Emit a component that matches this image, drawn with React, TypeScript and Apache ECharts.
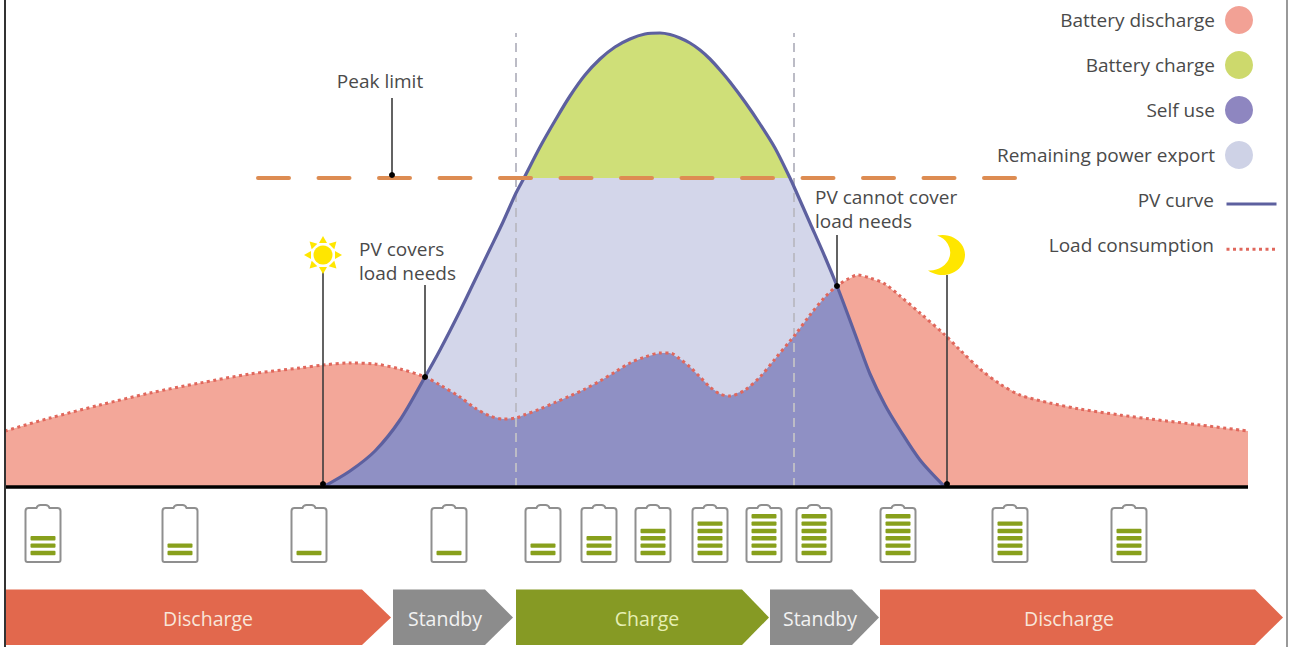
import React, { useEffect, useRef } from "react";
import * as echarts from "echarts";

// shared time axis of the curves (axis units equal the picture's horizontal scale)
const curveX = [5,50,100,150,200,250,300,323,350,375,400,425,440,460,475,490,503,516,524,540,556,570,585,600,615,630,645,660,670,680,690,700,710,720,730,745,760,775,790,795,810,825,837,848,858,870,885,900,920,945,960,980,1000,1020,1050,1080,1120,1150,1200,1248];
const loadValues = [56,69,82,94,104,113,119,122,124,123,118,110,102,90,79,71,68,69,72,78,85,91,98,106,115,124,130,134,134,128,120,110,100,93,91,97,110,128,146,152,172,190,201,208,212,209,203,191,174,152,137,118,103,92,84,78,72,68,62,56];
const pvValues = [0,0,0,0,0,0,0,0,16,36,67,110,137,176,207,238,265,294,309,340,368,391,412,428,440,448,453,454,452.5,449,444,437,428,417,405,385,363,339,309,298,264,230,201,172,145,113,82,57,27,0,0,0,0,0,0,0,0,0,0,0];
const peakLimit = 309;
const peakLimitSpan = [258, 1016];
const boundaryX = [516, 794];
const boundaryTop = 454;
const baselineSpan = [5, 1248];

const seriesNames = ["Battery discharge", "Battery charge", "Self use", "Remaining power export", "PV curve", "Load consumption"];

const batteryX = [43, 180, 309, 449, 543, 599, 653, 710, 764, 814, 898, 1010, 1129];
const batteryLevel = [3, 2, 1, 1, 2, 3, 4, 5, 6, 6, 6, 5, 4];

const phaseNames = ["Discharge", "Standby", "Charge", "Standby", "Discharge"];
const phaseStart = [6, 393, 516, 770, 880];
const phaseShoulder = [362, 485, 742, 852, 1255];
const phaseTip = [391, 513, 769, 879, 1283];
const phaseLabelX = [208, 445, 647, 820, 1069];
const phaseKind = ["discharge", "standby", "charge", "standby", "discharge"];

const noteTexts = ["Peak limit", "PV covers\nload needs", "PV cannot cover\nload needs"];
const noteX = [380, 359, 815];
const noteV = [406, 226, 278.5];
const noteAlign = ["center", "left", "left"];

const leaderX = [392, 323, 425, 837, 947];
const leaderFrom = [389, 215, 202, 252, 212];
const leaderTo = [312, 3, 110, 201, 3];

const sunAt = [323, 232];
const moonAt = [928, 252];

const COLORS = {
  discharge: "#f3a799",
  charge: "#cfdf78",
  self: "#8f90c4",
  remain: "#d3d6ea",
  pv: "#5d609f",
  load: "#e0675c",
  limit: "#dd8c52",
  text: "#4a4a4a",
  legendCharge: "#cdd96c",
  legendSelf: "#8e86c0",
  legendRemain: "#ced2e6",
  legendDischarge: "#f2a195",
};
const PHASE_FILL: Record<string, string> = { discharge: "#e2684d", standby: "#8c8c8c", charge: "#869a24" };
const PHASE_TEXT: Record<string, string> = { discharge: "#f8e6da", standby: "#f2f2f2", charge: "#e6efb4" };
const FONT = "'Open Sans', 'Noto Sans', sans-serif";
const BATTERY_PATH = "M3 3Q0 3 0 6L0 55Q0 57 2 57L33 57Q35 57 35 55L35 6Q35 3 32 3L24 3Q23 0 20 0L15 0Q12 0 11 3Z";
const MOON_PATH = "M9 0A22.4 22.4 0 1 1 0 39A20.2 20.2 0 0 0 9 0Z";

const pairs = (xs: number[], ys: number[]) => xs.map((x, i) => [x, ys[i]]);

function buildOption() {
  const selfUse = loadValues.map((v, i) => Math.min(v, pvValues[i]));
  const capped = pvValues.map((v) => Math.min(v, peakLimit));
  const first = pvValues.findIndex((v) => v > 0) - 1;
  let end = first + 1;
  while (pvValues[end] > 0) end++;
  const pvLine = pairs(curveX, pvValues).slice(first, end + 1);

  const area = (name: string, data: number[][], color: string, z: number) => ({
    name, type: "line", data, z, showSymbol: false, symbol: "none", silent: true,
    lineStyle: { width: 0, color }, itemStyle: { color }, areaStyle: { color, opacity: 1 },
  });
  const custom = (name: string, data: any[], z: number, renderItem: any) => ({
    name, type: "custom", data, z, silent: true, coordinateSystem: "cartesian2d",
    encode: { x: 0, y: 1 }, renderItem, clip: false,
  });
  const rule = (name: string, xs: number[], vs: number[], color: string, width: number, type: any, z: number) => ({
    name, type: "line", data: pairs(xs, vs), z, showSymbol: false, symbol: "none", silent: true,
    lineStyle: { color, width, type },
  });

  return {
    animation: false,
    backgroundColor: "#ffffff",
    grid: { left: 0, right: 0, top: 0, bottom: 0 },
    xAxis: { type: "value", min: 0, max: 1289, show: false },
    yAxis: { type: "value", min: -160, max: 487, show: false },
    legend: [
      {
        data: [
          { name: seriesNames[0], itemStyle: { color: COLORS.legendDischarge } },
          { name: seriesNames[1], itemStyle: { color: COLORS.legendCharge } },
          { name: seriesNames[2], itemStyle: { color: COLORS.legendSelf } },
          { name: seriesNames[3], itemStyle: { color: COLORS.legendRemain } },
        ],
        orient: "vertical", align: "right", right: 36, top: 6, padding: 0, itemWidth: 28, itemHeight: 28, itemGap: 17,
        icon: "circle", selectedMode: false,
        textStyle: { fontFamily: FONT, fontSize: 19, color: COLORS.text, padding: [0, 5, 0, 0] },
      },
      {
        // names of the two line keys
        data: [seriesNames[4], seriesNames[5]],
        orient: "vertical", align: "right", right: 11, top: 189, padding: 0, itemWidth: 50, itemHeight: 28, itemGap: 22,
        selectedMode: false,
        itemStyle: { opacity: 0 },
        lineStyle: { opacity: 0 },
        textStyle: { fontFamily: FONT, fontSize: 19, color: COLORS.text, padding: [0, 8, 0, 0] },
      },
      {
        // the two line keys, which sit a little lower than their names
        data: [seriesNames[4], seriesNames[5]],
        orient: "vertical", align: "right", right: 11, top: 190, padding: 0, itemWidth: 50, itemHeight: 28, itemGap: 20,
        selectedMode: false,
        itemStyle: { opacity: 0 },
        lineStyle: { width: 3 },
        formatter: () => "",
        textStyle: { fontSize: 1 },
      },
    ],
    series: [
      area(seriesNames[0], pairs(curveX, loadValues), COLORS.discharge, 1),
      area(seriesNames[1], pairs(curveX, pvValues), COLORS.charge, 2),
      area(seriesNames[3], pairs(curveX, capped), COLORS.remain, 3),
      area(seriesNames[2], pairs(curveX, selfUse), COLORS.self, 4),
      rule("Boundary A", [boundaryX[0], boundaryX[0]], [0, boundaryTop], "#bcbcc6", 2, [9, 6], 5),
      rule("Boundary B", [boundaryX[1], boundaryX[1]], [0, boundaryTop], "#bcbcc6", 2, [9, 6], 5),
      {
        name: seriesNames[5], type: "line", data: pairs(curveX, loadValues), z: 6, showSymbol: false, symbol: "none", silent: true,
        smooth: 0.3,
        lineStyle: { color: COLORS.load, width: 3, type: [3, 3.5] }, itemStyle: { color: COLORS.load },
      },
      {
        name: seriesNames[4], type: "line", data: pvLine, z: 7, showSymbol: false, symbol: "none", silent: true,
        smooth: 0.3,
        lineStyle: { color: COLORS.pv, width: 3.2 }, itemStyle: { color: COLORS.pv },
      },
      {
        ...rule("Peak limit line", peakLimitSpan, [peakLimit, peakLimit], COLORS.limit, 4, [31, 29.5], 8),
        lineStyle: { color: COLORS.limit, width: 4, type: [31, 29.5], cap: "round" },
      },
      rule("Baseline", baselineSpan, [0, 0], "#000000", 3.5, "solid", 9),
      rule("Left edge", [5, 5], [487, -160], "#333333", 2, "solid", 9),
      rule("Right edge", [1287, 1287], [487, -160], "#777777", 1.5, "solid", 9),
      custom("Leaders", pairs(leaderX, leaderFrom), 10, (p: any, api: any) => {
        const i = p.dataIndex;
        const a = api.coord([leaderX[i], leaderFrom[i]]);
        const b = api.coord([leaderX[i], leaderTo[i]]);
        return {
          type: "group",
          children: [
            { type: "line", shape: { x1: a[0], y1: a[1], x2: b[0], y2: b[1] }, style: { stroke: "#3c3c3c", lineWidth: 1.6 } },
            { type: "circle", shape: { cx: b[0], cy: b[1], r: 3 }, style: { fill: "#000000" } },
          ],
        };
      }),
      custom("Notes", pairs(noteX, noteV), 11, (p: any, api: any) => {
        const i = p.dataIndex;
        const c = api.coord([noteX[i], noteV[i]]);
        return {
          type: "text", x: c[0], y: c[1],
          style: { text: noteTexts[i], fontFamily: FONT, fontSize: 19, lineHeight: 24, fill: COLORS.text, align: noteAlign[i], verticalAlign: "middle" },
        };
      }),
      custom("Sun", [sunAt], 11, (_p: any, api: any) => {
        const c = api.coord(sunAt);
        const rays = [];
        for (let k = 0; k < 8; k++) {
          const t = (k * Math.PI) / 4;
          const tip = [Math.cos(t) * 19, Math.sin(t) * 19];
          const n = [-Math.sin(t) * 4, Math.cos(t) * 4];
          const b = [Math.cos(t) * 12, Math.sin(t) * 12];
          rays.push({
            type: "polygon",
            shape: { points: [[c[0] + tip[0], c[1] + tip[1]], [c[0] + b[0] + n[0], c[1] + b[1] + n[1]], [c[0] + b[0] - n[0], c[1] + b[1] - n[1]]] },
            style: { fill: "#ffe600" },
          });
        }
        return {
          type: "group",
          children: [{ type: "circle", shape: { cx: c[0], cy: c[1], r: 9.5 }, style: { fill: "#ffe600" } }, ...rays],
        };
      }),
      custom("Moon", [moonAt], 11, (_p: any, api: any) => {
        const c = api.coord(moonAt);
        return {
          type: "path",
          shape: { pathData: MOON_PATH, x: c[0], y: c[1], width: 37, height: 40, layout: "cover" },
          style: { fill: "#ffe600" },
        };
      }),
      custom("Batteries", pairs(batteryX, batteryLevel), 11, (p: any, api: any) => {
        const i = p.dataIndex;
        const c = api.coord([batteryX[i], -18]);
        const bars = [];
        for (let k = 0; k < batteryLevel[i]; k++) {
          bars.push({
            type: "rect",
            shape: { x: c[0] - 12.5, y: c[1] + 48 - 2.2 - k * 7.35, width: 25, height: 4.4, r: 1 },
            style: { fill: "#88a01c" },
          });
        }
        return {
          type: "group",
          children: [
            {
              type: "path",
              shape: { pathData: BATTERY_PATH, x: c[0] - 17.5, y: c[1], width: 35, height: 57, layout: "cover" },
              style: { fill: "#ffffff", stroke: "#8f8f8f", lineWidth: 2 },
            },
            ...bars,
          ],
        };
      }),
      custom("Phases", pairs(phaseStart, phaseTip), 11, (p: any, api: any) => {
        const i = p.dataIndex;
        const top = api.coord([phaseStart[i], -102.5]);
        const bot = api.coord([phaseShoulder[i], -158]);
        const tip = api.coord([phaseTip[i], -130.5]);
        const lab = api.coord([phaseLabelX[i], -131.5]);
        return {
          type: "group",
          children: [
            {
              type: "polygon",
              shape: { points: [[top[0], top[1]], [bot[0], top[1]], [tip[0], tip[1]], [bot[0], bot[1]], [top[0], bot[1]]] },
              style: { fill: PHASE_FILL[phaseKind[i]] },
            },
            {
              type: "text", x: lab[0], y: lab[1],
              style: { text: phaseNames[i], fontFamily: FONT, fontSize: 19.5, fill: PHASE_TEXT[phaseKind[i]], align: "center", verticalAlign: "middle" },
            },
          ],
        };
      }),
    ],
  };
}

export default function App() {
  const ref = useRef<HTMLDivElement>(null);
  useEffect(() => {
    document.body.style.margin = "0";
    const chart = echarts.init(ref.current!, undefined, { renderer: "svg" });
    chart.setOption(buildOption() as any);
    return () => chart.dispose();
  }, []);
  return <div ref={ref} style={{ width: 1289, height: 647 }} />;
}
